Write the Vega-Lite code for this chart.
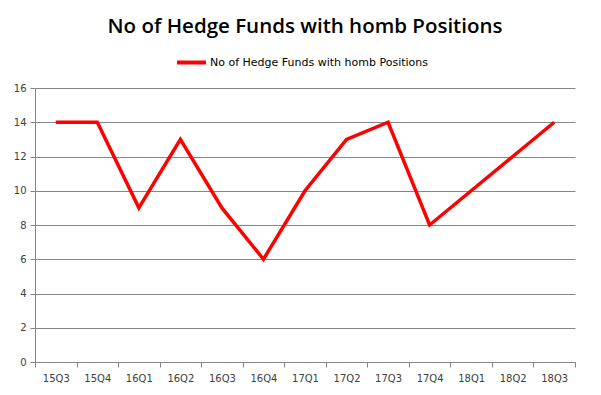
{
  "$schema": "https://vega.github.io/schema/vega-lite/v6.json",
  "width": 540,
  "height": 274,
  "autosize": {"type": "none"},
  "padding": {"left": 35, "top": 88, "right": 26, "bottom": 33},
  "background": "white",
  "title": {
    "text": "No of Hedge Funds with homb Positions",
    "font": "Open Sans",
    "fontSize": 20.5,
    "fontWeight": 600,
    "color": "#000000",
    "anchor": "middle",
    "offset": 9
  },
  "data": {
    "values": [
      {"q": "15Q3", "v": 14, "s": "No of Hedge Funds with homb Positions"},
      {"q": "15Q4", "v": 14, "s": "No of Hedge Funds with homb Positions"},
      {"q": "16Q1", "v": 9, "s": "No of Hedge Funds with homb Positions"},
      {"q": "16Q2", "v": 13, "s": "No of Hedge Funds with homb Positions"},
      {"q": "16Q3", "v": 9, "s": "No of Hedge Funds with homb Positions"},
      {"q": "16Q4", "v": 6, "s": "No of Hedge Funds with homb Positions"},
      {"q": "17Q1", "v": 10, "s": "No of Hedge Funds with homb Positions"},
      {"q": "17Q2", "v": 13, "s": "No of Hedge Funds with homb Positions"},
      {"q": "17Q3", "v": 14, "s": "No of Hedge Funds with homb Positions"},
      {"q": "17Q4", "v": 8, "s": "No of Hedge Funds with homb Positions"},
      {"q": "18Q1", "v": 10, "s": "No of Hedge Funds with homb Positions"},
      {"q": "18Q2", "v": 12, "s": "No of Hedge Funds with homb Positions"},
      {"q": "18Q3", "v": 14, "s": "No of Hedge Funds with homb Positions"}
    ]
  },
  "mark": {"type": "line", "strokeWidth": 3.5, "strokeJoin": "miter"},
  "encoding": {
    "x": {
      "field": "q",
      "type": "ordinal",
      "sort": null,
      "scale": {"type": "band", "paddingInner": 0, "paddingOuter": 0},
      "axis": {
        "title": null,
        "labelAngle": 0,
        "tickBand": "extent",
        "domainColor": "#868686",
        "tickColor": "#868686",
        "tickSize": 5,
        "labelFont": "DejaVu Sans",
        "labelFontSize": 10,
        "labelColor": "#404040",
        "labelPadding": 6,
        "grid": false
      }
    },
    "y": {
      "field": "v",
      "type": "quantitative",
      "scale": {"domain": [0, 16]},
      "axis": {
        "title": null,
        "values": [0, 2, 4, 6, 8, 10, 12, 14, 16],
        "domainColor": "#868686",
        "tickColor": "#868686",
        "tickSize": 5,
        "gridColor": "#868686",
        "gridWidth": 1,
        "labelFont": "DejaVu Sans",
        "labelFontSize": 10,
        "labelColor": "#404040",
        "labelPadding": 4
      }
    },
    "color": {
      "field": "s",
      "type": "nominal",
      "scale": {"range": ["#ff0000"]},
      "legend": {
        "title": null,
        "orient": "none",
        "legendX": 140,
        "legendY": -42,
        "direction": "horizontal",
        "symbolType": "stroke",
        "symbolStrokeWidth": 4,
        "symbolSize": 841,
        "labelLimit": 0,
        "labelOffset": 2,
        "labelFont": "DejaVu Sans",
        "labelFontSize": 11,
        "labelColor": "#000000"
      }
    }
  },
  "config": {"view": {"stroke": null}}
}
